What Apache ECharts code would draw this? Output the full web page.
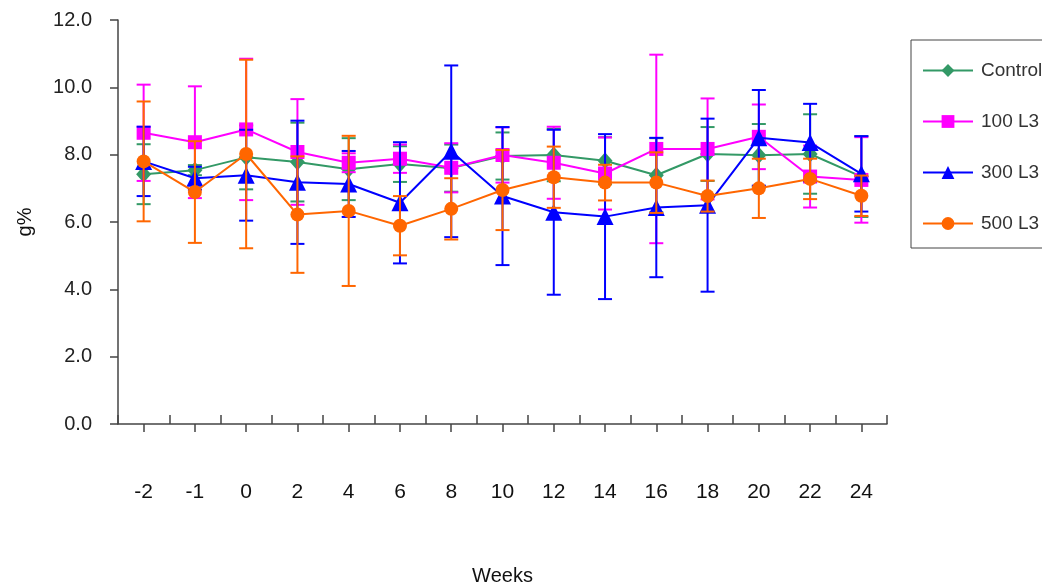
<!DOCTYPE html>
<html>
<head>
<meta charset="utf-8">
<script src="https://cdn.jsdelivr.net/npm/echarts@6/dist/echarts.min.js"></script>
<style>
  html, body { margin: 0; padding: 0; background: #fff; }
  #chart { width: 1042px; height: 588px; }
</style>
</head>
<body>
<div id="chart"></div>
<script>
// Sampling weeks
const weeks = ['-2', '-1', '0', '2', '4', '6', '8', '10', '12', '14', '16', '18', '20', '22', '24'];

// Group means (g%) and their error values
const control    = [7.42, 7.54, 7.92, 7.78, 7.57, 7.72, 7.60, 7.96, 7.99, 7.82, 7.39, 8.02, 7.98, 8.02, 7.35];
const controlErr = [0.89, 0.15, 0.95, 1.17, 0.92, 0.53, 0.70, 0.70, 0.78, 0.70, 1.10, 0.80, 0.93, 1.18, 1.20];
const l100       = [8.65, 8.37, 8.75, 8.08, 7.76, 7.88, 7.61, 7.99, 7.76, 7.44, 8.17, 8.17, 8.53, 7.35, 7.25];
const l100Err    = [1.43, 1.66, 2.10, 1.57, 0.28, 0.42, 0.73, 0.82, 1.07, 1.07, 2.80, 1.50, 0.96, 0.92, 1.27];
const l300       = [7.80, 7.30, 7.39, 7.18, 7.13, 6.57, 8.10, 6.77, 6.29, 6.16, 6.43, 6.50, 8.50, 8.36, 7.43];
const l300Err    = [1.03, 0.34, 1.35, 1.83, 0.98, 1.80, 2.55, 2.05, 2.45, 2.45, 2.07, 2.57, 1.42, 1.15, 1.12];
const l500       = [7.80, 6.89, 8.02, 6.22, 6.33, 5.89, 6.39, 6.95, 7.33, 7.17, 7.17, 6.77, 7.00, 7.28, 6.78];
const l500Err    = [1.78, 1.51, 2.80, 1.73, 2.23, 0.88, 0.91, 1.19, 0.91, 0.53, 0.90, 0.46, 0.88, 0.60, 0.60];

const yTicks = { min: 0, max: 12, interval: 2 };

const groups = [
  { name: 'Control', mean: control, err: controlErr, color: '#339966', symbol: 'diamond',  size: [15, 17] },
  { name: '100 L3',  mean: l100,    err: l100Err,    color: '#FF00FF', symbol: 'rect',     size: 14 },
  { name: '300 L3',  mean: l300,    err: l300Err,    color: '#0000FF', symbol: 'triangle', size: 17 },
  { name: '500 L3',  mean: l500,    err: l500Err,    color: '#FF6600', symbol: 'circle',   size: 14 }
];

const FONT = '"Liberation Sans", Arial, sans-serif';

// Vertical error bar with caps at mean ± err
function errorBar(color) {
  return function (params, api) {
    const i = api.value(0), m = api.value(1), e = api.value(2);
    const top = api.coord([i, m + e]);
    const bot = api.coord([i, m - e]);
    const hw = 7;
    const st = { stroke: color, lineWidth: 2 };
    return {
      type: 'group',
      children: [
        { type: 'line', shape: { x1: top[0], y1: top[1], x2: bot[0], y2: bot[1] }, style: st },
        { type: 'line', shape: { x1: top[0] - hw, y1: top[1], x2: top[0] + hw, y2: top[1] }, style: st },
        { type: 'line', shape: { x1: bot[0] - hw, y1: bot[1], x2: bot[0] + hw, y2: bot[1] }, style: st }
      ]
    };
  };
}

const series = [];
groups.forEach((g, k) => {
  series.push({
    name: g.name + ' err',
    type: 'custom',
    xAxisIndex: 0,
    renderItem: errorBar(g.color),
    encode: { x: 0, y: [1] },
    data: weeks.map((w, i) => [i, g.mean[i], g.err[i]]),
    z: 2 + k * 2,
    silent: true
  });
  series.push({
    name: g.name,
    type: 'line',
    xAxisIndex: 0,
    data: g.mean,
    symbol: g.symbol,
    symbolSize: g.size,
    showAllSymbol: true,
    color: g.color,
    lineStyle: { color: g.color, width: 2 },
    itemStyle: { color: g.color },
    z: 3 + k * 2,
    animation: false
  });
});

const chart = echarts.init(document.getElementById('chart'), null, { renderer: 'canvas' });
chart.setOption({
  backgroundColor: '#fff',
  animation: false,
  grid: { left: 118, right: 155, top: 20, bottom: 164, containLabel: false, outerBoundsMode: 'none' },
  legend: {
    orient: 'vertical',
    left: 911,
    top: 40,
    data: groups.map(g => g.name),
    itemWidth: 50,
    itemHeight: 16,
    itemGap: 32,
    padding: [21, 60, 15, 11],
    borderColor: '#444',
    borderWidth: 1,
    textStyle: { fontFamily: FONT, fontSize: 19, color: '#333', lineHeight: 19, padding: [0, 0, 0, 3] }
  },
  xAxis: [
    {
      type: 'category',
      data: weeks,
      position: 'bottom',
      boundaryGap: true,
      name: 'Weeks',
      nameLocation: 'middle',
      nameGap: 142,
      nameTextStyle: { fontFamily: FONT, fontSize: 20, color: '#111' },
      axisLine: { show: true, lineStyle: { color: '#444', width: 1.5 } },
      axisTick: { show: true, alignWithLabel: true, inside: false, length: 8, lineStyle: { color: '#444', width: 1.5 } },
      axisLabel: { margin: 58, fontFamily: FONT, fontSize: 21, color: '#111' },
      splitLine: { show: false }
    },
    {
      type: 'category',
      data: weeks,
      position: 'bottom',
      boundaryGap: true,
      axisLine: { show: false },
      axisTick: { show: true, alignWithLabel: false, inside: true, length: 9, lineStyle: { color: '#444', width: 1.5 } },
      axisLabel: { show: false },
      splitLine: { show: false }
    }
  ],
  yAxis: {
    type: 'value',
    min: yTicks.min,
    max: yTicks.max,
    interval: yTicks.interval,
    name: 'g%',
    nameLocation: 'middle',
    nameGap: 83,
    nameTextStyle: { fontFamily: FONT, fontSize: 20, color: '#111' },
    axisLine: { show: true, lineStyle: { color: '#444', width: 1.5 } },
    axisTick: { show: true, inside: false, length: 8, lineStyle: { color: '#444', width: 1.5 } },
    axisLabel: { margin: 26, fontFamily: FONT, fontSize: 20, color: '#222', formatter: v => v.toFixed(1) },
    splitLine: { show: false }
  },
  series: series
});
</script>
</body>
</html>
